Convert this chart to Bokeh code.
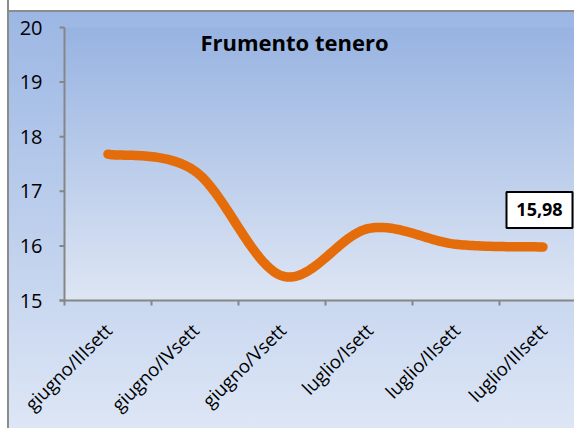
import numpy as np
from bokeh.plotting import figure
from bokeh.models import Range1d, Label
from bokeh.embed import file_html
from bokeh.resources import INLINE

categories = ["giugno/IIIsett", "giugno/IVsett", "giugno/Vsett",
              "luglio/Isett", "luglio/IIsett", "luglio/IIIsett"]
values = [17.68, 17.37, 15.45, 16.32, 16.03, 15.98]
y_ticks = [15, 16, 17, 18, 19, 20]
y_tick_labels = ["15", "16", "17", "18", "19", "20"]
title_text = "Frumento tenero"

xs = np.arange(len(categories)) + 0.5
ys = np.array(values)

# Smoothed line (Catmull-Rom -> cubic Bezier), computed from the data
px = np.concatenate([[xs[0]], xs, [xs[-1]]])
py = np.concatenate([[ys[0]], ys, [ys[-1]]])
sx, sy = [], []
t = np.linspace(0, 1, 40)
for i in range(1, len(xs)):
    p0x, p0y = px[i], py[i]
    p1x, p1y = px[i + 1], py[i + 1]
    c1x = p0x + (px[i + 1] - px[i - 1]) / 6
    c1y = p0y + (py[i + 1] - py[i - 1]) / 6
    c2x = p1x - (px[i + 2] - px[i]) / 6
    c2y = p1y - (py[i + 2] - py[i]) / 6
    bx = (1 - t) ** 3 * p0x + 3 * (1 - t) ** 2 * t * c1x + 3 * (1 - t) * t ** 2 * c2x + t ** 3 * p1x
    by = (1 - t) ** 3 * p0y + 3 * (1 - t) ** 2 * t * c1y + 3 * (1 - t) * t ** 2 * c2y + t ** 3 * p1y
    sx.extend(bx.tolist())
    sy.extend(by.tolist())

W, H = 574, 428
frame_left, axis_x_px = 9, 64
frame_top, plot_top_px, plot_bottom_px = 12, 27, 300
px_per_cat = 87.0
px_per_unit = (plot_bottom_px - plot_top_px) / 5.0
x_start = -(axis_x_px - frame_left) / px_per_cat
x_end = (W - axis_x_px) / px_per_cat
y_lo, y_hi = y_ticks[0], y_ticks[-1]
y_start = y_lo - (H - plot_bottom_px) / px_per_unit
y_end = y_hi + (plot_top_px - frame_top) / px_per_unit

p = figure(width=W, height=H, output_backend="svg", toolbar_location=None,
           x_range=Range1d(x_start, x_end), y_range=Range1d(y_start, y_end),
           min_border_left=frame_left, min_border_right=0, min_border_top=frame_top,
           min_border_bottom=0)
p.border_fill_alpha = 0
p.background_fill_alpha = 0
p.outline_line_color = None
p.grid.visible = False
p.xaxis.visible = False
p.yaxis.visible = False
p.styles = {
    "background": "linear-gradient(to bottom, #ffffff 0px, #ffffff 10px, #8c8c8c 10px, #8c8c8c 12px, #9cb7e4 12px, #dde6f5 100%)",
    "box-shadow": "inset 7px 0 0 #ffffff, inset 9px 0 0 #8c8c8c",
}

# plot-area gradient
nrow = 256
top_c = np.array([0x98, 0xb4, 0xe2])
bot_c = np.array([0xde, 0xe6, 0xf4])
f = np.linspace(0, 1, nrow)[:, None]
cols = (bot_c * (1 - f) + top_c * f).astype(np.uint32)
img = np.empty((nrow, 1), dtype=np.uint32)
view = img.view(dtype=np.uint8).reshape((nrow, 1, 4))
view[:, :, 0] = cols[:, 0:1]
view[:, :, 1] = cols[:, 1:2]
view[:, :, 2] = cols[:, 2:3]
view[:, :, 3] = 255
p.image_rgba(image=[img], x=0, y=y_lo, dw=x_end, dh=y_hi - y_lo)

axis_col = "#868686"
tick_len_x = 5 / px_per_cat
tick_len_y = 5 / px_per_unit

# value axis (line, ticks, labels)
p.segment(x0=[0], y0=[y_lo], x1=[0], y1=[y_hi], line_color=axis_col, line_width=2)
p.segment(x0=[-tick_len_x] * len(y_ticks), y0=y_ticks, x1=[0] * len(y_ticks), y1=y_ticks,
          line_color=axis_col, line_width=2)
font = "Open Sans"
p.text(x=[0] * len(y_ticks), y=y_ticks, text=y_tick_labels, x_offset=-22,
       text_align="right", text_baseline="middle", text_font={"value": font},
       text_font_size="20px", text_color="black")

# category axis line and boundary ticks
bounds = np.arange(len(categories) + 1)
p.segment(x0=[-tick_len_x], y0=[y_lo], x1=[x_end], y1=[y_lo], line_color=axis_col, line_width=2)
p.segment(x0=bounds, y0=[y_lo] * len(bounds), x1=bounds,
          y1=[y_lo - tick_len_y] * len(bounds), line_color=axis_col, line_width=2)

p.line(sx, sy, line_color="#e46c0a", line_width=9.5, line_cap="round", line_join="round")

# rotated category labels, right end anchored under each category
p.text(x=xs, y=[y_lo - 26 / px_per_unit] * len(categories), text=categories, angle=np.pi / 4,
       text_align="right", text_baseline="middle", text_font={"value": font},
       text_font_size="18.5px", text_color="black")

# title inside plot area
p.add_layout(Label(x=(294 - axis_x_px) / px_per_cat, y=y_hi - (41 - plot_top_px) / px_per_unit,
                   text=title_text, text_font=font, text_font_style="bold", text_font_size="22px",
                   text_align="center", text_baseline="middle", text_color="black"))

# data label for last point
lab_x = xs[-1] - 3.5 / px_per_cat
lab_y = values[-1] + 37 / px_per_unit
p.rect(x=[lab_x], y=[lab_y], width=66, height=36, width_units="screen", height_units="screen",
       fill_color="white", line_color="black", line_width=2)
p.text(x=[lab_x], y=[lab_y], text=[f"{values[-1]:.2f}".replace(".", ",")],
       text_align="center", text_baseline="middle", text_font={"value": font},
       text_font_style="bold", text_font_size="18px", text_color="black")

open("out.html", "w").write(file_html(p, INLINE))
